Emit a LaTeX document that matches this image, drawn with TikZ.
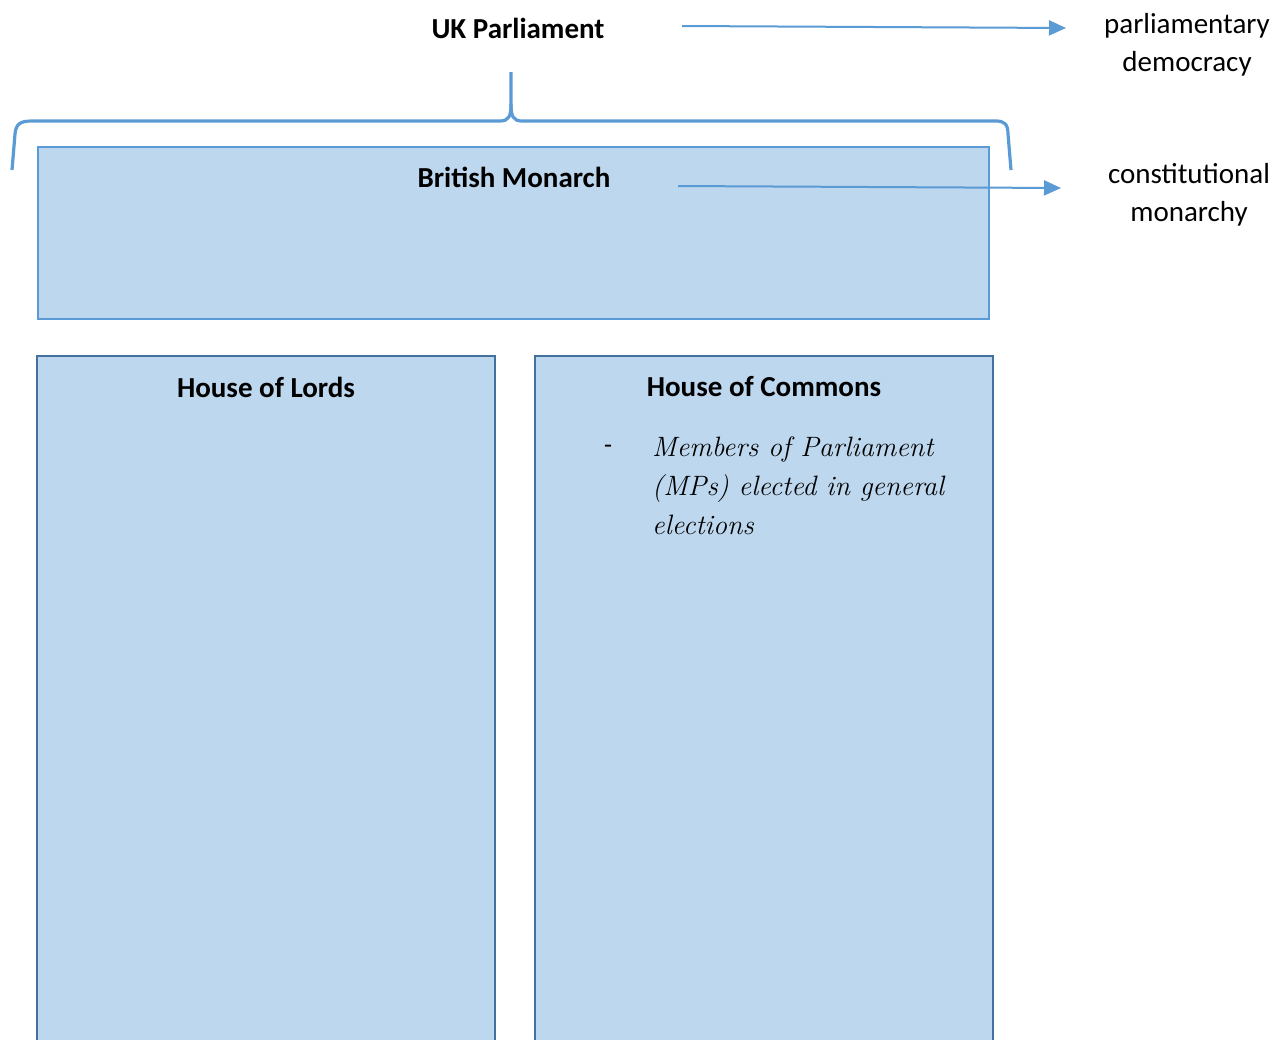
\documentclass[tikz,border=0pt]{standalone}
\usepackage{fontspec}
\setmainfont{Carlito}
\newfontfamily\handfont{Latin Modern Roman}
\usetikzlibrary{arrows.meta}
\definecolor{accent}{HTML}{5B9BD5}
\definecolor{boxfill}{HTML}{BDD7EE}
\definecolor{boxedge}{HTML}{41719C}
\tikzset{
  lbl/.style={font=\fontsize{29}{38}\selectfont, align=center, inner sep=0pt},
  title/.style={font=\fontsize{29}{38}\selectfont\bfseries, inner sep=0pt},
  arr/.style={draw=accent, line width=2pt, -{Triangle[length=17pt,width=15pt]}},
  brace/.style={draw=accent, line width=3.2pt},
  monbox/.style={draw=accent, fill=boxfill, line width=2.2pt},
  housebox/.style={draw=boxedge, fill=boxfill, line width=2.2pt},
  hand/.style={font=\fontsize{28}{39}\selectfont\handfont\itshape, align=left, inner sep=0pt, anchor=north west}
}
\begin{document}
\begin{tikzpicture}[x=1pt, y=-1pt]
\clip (0,0) rectangle (1281,1039);
\fill[white] (0,0) rectangle (1281,1039);
% boxes
\draw[monbox] (38,147) rectangle (989,319);
\draw[housebox] (37,356) rectangle (495,1060);
\draw[housebox] (535,356) rectangle (993,1060);
% brace
\draw[brace] (12,170) -- (15,134) .. controls (16,124) and (20,121) .. (32,121) -- (500,121) .. controls (509,121) and (511,116) .. (511,104) -- (511,72);
\draw[brace] (511,104) .. controls (511,116) and (513,121) .. (522,121) -- (996,121) .. controls (1004,121) and (1008,124) .. (1008,134) -- (1011,170);
% texts
\node[title] (ukp) at (518,28) {UK Parliament};
\node[title] (bm) at (514,177) {British Monarch};
\node[title] (hol) at (266,387) {House of Lords};
\node[title] (hoc) at (764,387) {House of Commons};
\node[lbl] (pd) at (1187,45) {parliamentary\\democracy};
\node[lbl] (cm) at (1189,195) {constitutional\\monarchy};
\node[font=\fontsize{26}{39}\selectfont, inner sep=0pt] (dash) at (608,449) {-};
\node[hand] (mp) at (652,437) {Members of Parliament\\(MPs) elected in general\\elections};
% arrows
\coordinate (a1s) at (682,26);
\coordinate (a1e) at (1066,28);
\coordinate (a2s) at (678,186);
\coordinate (a2e) at (1061,188);
\draw[arr] (a1s) -- (a1e);
\draw[arr] (a2s) -- (a2e);
\end{tikzpicture}
\end{document}
